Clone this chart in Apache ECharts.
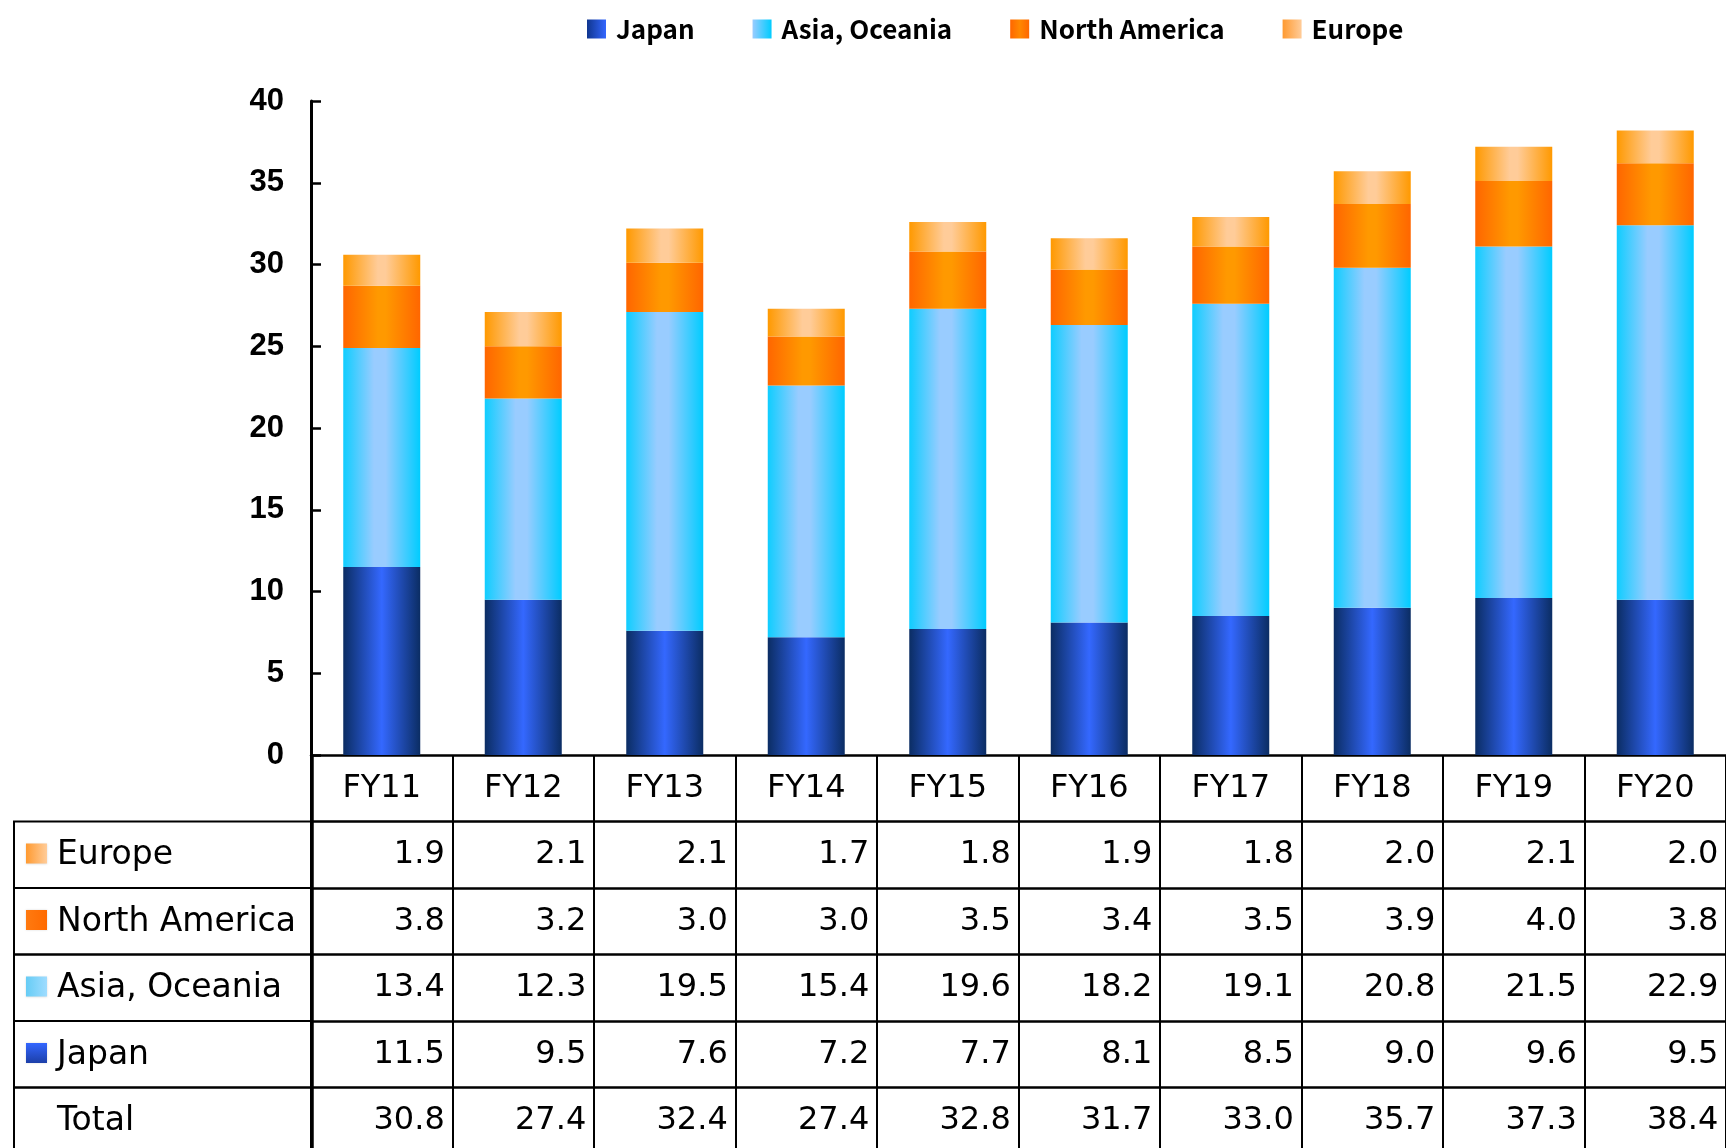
<!DOCTYPE html>
<html>
<head>
<meta charset="utf-8">
<script src="https://cdn.jsdelivr.net/npm/echarts@6/dist/echarts.min.js"></script>
<style>
  html, body { margin: 0; padding: 0; background: #fff; overflow: hidden; }
  #chart { width: 1726px; height: 1148px; }
</style>
</head>
<body>
<div id="chart"></div>
<script>
// Sales by region, FY11–FY20 (stacked from the bottom: Japan, Asia/Oceania, North America, Europe)
const categories = ['FY11', 'FY12', 'FY13', 'FY14', 'FY15', 'FY16', 'FY17', 'FY18', 'FY19', 'FY20'];
const japan        = [11.5, 9.5, 7.6, 7.2, 7.7, 8.1, 8.5, 9.0, 9.6, 9.5];
const asiaOceania  = [13.4, 12.3, 19.5, 15.4, 19.6, 18.2, 19.1, 20.8, 21.5, 22.9];
const northAmerica = [3.8, 3.2, 3.0, 3.0, 3.5, 3.4, 3.5, 3.9, 4.0, 3.8];
const europe       = [1.9, 2.1, 2.1, 1.7, 1.8, 1.9, 1.8, 2.0, 2.1, 2.0];
const total        = [30.8, 27.4, 32.4, 27.4, 32.8, 31.7, 33.0, 35.7, 37.3, 38.4];

const yMin = 0, yMax = 40, yStep = 5;

// Layout
const GRID = { left: 311, top: 101, width: 1416, height: 654 };
const AXIS_Y = GRID.top + GRID.height;
const ROW_H = 66.5;
const LABEL_COL_X = 14;
const TABLE_FONT = "'DejaVu Sans', Verdana, sans-serif";

function hGrad(stops) {
  return new echarts.graphic.LinearGradient(0, 0, 1, 0,
    stops.map(s => ({ offset: s[0], color: s[1] })));
}

// Bar fills: horizontal "cylinder" shading
const fills = {
  'Japan':          hGrad([[0, '#0b2d63'], [0.5, '#3468ff'], [1, '#0b2d63']]),
  'Asia, Oceania':  hGrad([[0, '#0fcdff'], [0.4, '#99ccff'], [0.55, '#99ccff'], [1, '#00ccff']]),
  'North America':  hGrad([[0, '#ff6600'], [0.45, '#ff9900'], [0.55, '#ff9900'], [1, '#ff6600']]),
  'Europe':         hGrad([[0, '#ff9900'], [0.45, '#ffcc99'], [0.55, '#ffcc99'], [1, '#ff9900']])
};
// Legend swatches: half of the shading
const swatches = {
  'Japan':          hGrad([[0, '#10368f'], [1, '#3366ff']]),
  'Asia, Oceania':  hGrad([[0, '#99ccff'], [1, '#00ccff']]),
  'North America':  hGrad([[0, '#ff6600'], [0.5, '#ff8800'], [1, '#ff6600']]),
  'Europe':         hGrad([[0, '#ff9a30'], [1, '#ffcc99']])
};

const seriesDefs = [
  { name: 'Japan', data: japan },
  { name: 'Asia, Oceania', data: asiaOceania },
  { name: 'North America', data: northAmerica },
  { name: 'Europe', data: europe }
];

// Data table rows under the plot
const tableRows = [
  { name: 'Europe', values: europe, icon: swatches['Europe'] },
  { name: 'North America', values: northAmerica, icon: hGrad([[0, '#ff7a10'], [1, '#ff6a00']]) },
  { name: 'Asia, Oceania', values: asiaOceania, icon: hGrad([[0, '#66ccf5'], [1, '#9fdcff']]) },
  { name: 'Japan', values: japan, icon: new echarts.graphic.LinearGradient(0, 0, 0, 1, [{ offset: 0, color: '#3366ff' }, { offset: 1, color: '#1c3fa8' }]) },
  { name: 'Total', values: total, icon: null }
];

const lineStyle = { color: '#000', width: 2.5 };

const xAxes = [{
  type: 'category',
  gridIndex: 0,
  position: 'bottom',
  data: categories,
  axisLine: { show: true, lineStyle },
  axisTick: { show: true, interval: 0, alignWithLabel: false, length: ROW_H, lineStyle: { color: '#000', width: 2 } },
  axisLabel: {
    interval: 0, margin: ROW_H / 2, verticalAlign: 'middle',
    fontFamily: TABLE_FONT, fontSize: 32, color: '#000'
  }
}];

tableRows.forEach((row, i) => {
  xAxes.push({
    type: 'category',
    gridIndex: 0,
    position: 'bottom',
    offset: (i + 1) * ROW_H,
    data: categories,
    axisLine: { show: true, lineStyle },
    axisTick: { show: true, interval: 0, alignWithLabel: false, length: ROW_H, lineStyle: { color: '#000', width: 2 } },
    axisLabel: {
      interval: 0, margin: ROW_H / 2, verticalAlign: 'middle', align: 'center',
      formatter: (v, idx) => '{v|' + row.values[idx].toFixed(1) + '}',
      rich: { v: { width: 126, align: 'right', fontFamily: TABLE_FONT, fontSize: 32, color: '#000' } }
    }
  });
});

// Label column on the left of the table
const graphics = [];
tableRows.forEach((row, i) => {
  const top = AXIS_Y + (i + 1) * ROW_H;
  graphics.push({
    type: 'rect', silent: true,
    shape: { x: LABEL_COL_X, y: top, width: GRID.left - LABEL_COL_X, height: ROW_H },
    style: { fill: 'none', stroke: '#000', lineWidth: 2 }
  });
  if (row.icon) {
    graphics.push({
      type: 'rect', silent: true,
      shape: { x: LABEL_COL_X + 12, y: top + 22, width: 21, height: 20 },
      style: { fill: row.icon, shadowBlur: 2, shadowColor: 'rgba(0,0,0,0.15)' }
    });
  }
  graphics.push({
    type: 'text', silent: true,
    x: LABEL_COL_X + 43, y: top + ROW_H / 2 + 1,
    style: { text: row.name, font: '33px ' + TABLE_FONT, fill: '#000', verticalAlign: 'middle', align: 'left' }
  });
});
graphics.push({
  type: 'line', silent: true,
  shape: { x1: GRID.left + 1, y1: AXIS_Y, x2: GRID.left + 1, y2: 1148 },
  style: { stroke: '#000', lineWidth: 3.5 }
});

const chart = echarts.init(document.getElementById('chart'), null, { renderer: 'canvas' });
chart.setOption({
  animation: false,
  backgroundColor: '#fff',
  legend: {
    left: 582, top: 11,
    icon: 'rect', itemWidth: 19, itemHeight: 19, itemGap: 58,
    textStyle: {
      fontFamily: "'Noto Sans CJK JP', 'Liberation Sans', sans-serif",
      fontWeight: 'bold', fontSize: 26, color: '#000', padding: [0, 0, 0, 5]
    },
    data: seriesDefs.map(s => ({ name: s.name, itemStyle: { color: swatches[s.name] } })),
    selectedMode: false
  },
  grid: { left: GRID.left, top: GRID.top, width: GRID.width, height: GRID.height, containLabel: false },
  xAxis: xAxes,
  yAxis: {
    type: 'value', min: yMin, max: yMax, interval: yStep,
    axisLine: { show: true, lineStyle: { color: '#000', width: 3 } },
    axisTick: { show: true, inside: true, length: 10, lineStyle: { color: '#000', width: 2.5 } },
    axisLabel: { margin: 27, fontFamily: "'Liberation Sans', Arial, sans-serif", fontWeight: 'bold', fontSize: 31, color: '#000' },
    splitLine: { show: false }
  },
  series: seriesDefs.map(s => ({
    name: s.name,
    type: 'bar',
    stack: 'sales',
    xAxisIndex: 0,
    barWidth: 77,
    data: s.data,
    itemStyle: { color: fills[s.name] },
    emphasis: { disabled: true }
  })),
  graphic: graphics
});
</script>
</body>
</html>
